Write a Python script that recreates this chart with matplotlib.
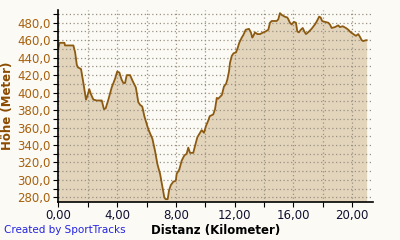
import matplotlib
matplotlib.use("Agg")
import matplotlib.pyplot as plt
from matplotlib.ticker import MultipleLocator, FuncFormatter

distanz = [0.00, 0.08, 0.41, 0.45, 1.02, 1.14, 1.25, 1.32, 1.54, 1.70, 1.82, 1.88,
           1.97, 2.10, 2.22, 2.38, 2.60, 2.95, 3.10, 3.22, 3.40, 3.63, 3.86, 4.00,
           4.15, 4.30, 4.42, 4.54, 4.65, 4.88, 5.06, 5.27, 5.44, 5.56, 5.71, 5.85,
           6.01, 6.12, 6.40, 6.58, 6.74, 6.92, 7.07, 7.21, 7.30, 7.44, 7.53, 7.65,
           7.82, 7.99, 8.05, 8.23, 8.39, 8.57, 8.73, 8.84, 8.96, 9.18, 9.30, 9.46,
           9.64, 9.75, 9.91, 10.05, 10.20, 10.30, 10.54, 10.66, 10.78, 10.88, 11.05,
           11.12, 11.27, 11.41, 11.50, 11.61, 11.68, 11.80, 11.92, 12.09, 12.20,
           12.31, 12.48, 12.59, 12.75, 12.97, 13.10, 13.20, 13.27, 13.38, 13.54,
           13.72, 13.95, 14.10, 14.29, 14.40, 14.52, 14.86, 14.97, 15.08, 15.20,
           15.40, 15.58, 15.65, 15.76, 15.88, 16.03, 16.17, 16.26, 16.37, 16.50,
           16.63, 16.74, 16.85, 17.00, 17.23, 17.46, 17.60, 17.75, 17.85, 17.95,
           18.14, 18.37, 18.48, 18.60, 18.82, 19.05, 19.16, 19.35, 19.57, 19.73,
           19.90, 20.07, 20.25, 20.41, 20.52, 20.64, 20.75, 20.93, 20.98]
hoehe = [451, 457, 457, 454, 454, 446, 432, 429, 427, 411, 398, 392,
         396, 404, 398, 392, 391, 391, 381, 382, 392, 406, 416, 424,
         423, 415, 411, 411, 420, 420, 413, 406, 389, 386, 384, 373,
         364, 358, 347, 333, 318, 307, 293, 280, 278, 278, 288, 294,
         298, 299, 307, 312, 322, 328, 330, 337, 331, 331, 339, 349,
         354, 357, 354, 362, 368, 373, 375, 381, 394, 393, 396,
         397, 407, 410, 415, 424, 434, 442, 445, 446, 451,
         457, 463, 466, 472, 473, 469, 463, 465, 469, 467,
         467, 469, 470, 472, 480, 482, 482, 484, 491, 489,
         487, 486, 484, 480, 478, 481, 480, 470, 469, 472,
         474, 470, 467, 469, 473, 478, 482, 487, 486, 482,
         481, 480, 478, 474, 475, 477, 475, 476, 474, 472,
         469, 467, 465, 467, 464, 460, 459, 460, 460]

bg = "#fbfaf5"
linie = "#8c5a10"
flaeche = "#e3d4bc"

fig = plt.figure(figsize=(4, 2.4), dpi=100, facecolor=bg)
ax = fig.add_axes([0.146, 0.16, 0.786, 0.798], facecolor=bg)

ymin, ymax = 275.2, 494.5
ax.fill_between(distanz, hoehe, ymin, color=flaeche, lw=0, zorder=1)
ax.plot(distanz, hoehe, color=linie, lw=1.3, zorder=3)

ax.set_xlim(0, 21.4)
ax.set_ylim(ymin, ymax)

ax.xaxis.set_major_locator(MultipleLocator(4))
ax.xaxis.set_minor_locator(MultipleLocator(2))
ax.yaxis.set_major_locator(MultipleLocator(20))
ax.yaxis.set_minor_locator(MultipleLocator(10))
ax.xaxis.set_major_formatter(FuncFormatter(lambda v, p: f"{v:.2f}".replace(".", ",")))
ax.yaxis.set_major_formatter(FuncFormatter(lambda v, p: f"{v:.1f}".replace(".", ",")))

ax.grid(which="both", color="#9a9282", ls=(0, (1, 2)), lw=0.9, zorder=2)
ax.set_axisbelow(False)

for s in ["top", "right"]:
    ax.spines[s].set_visible(False)
for s in ["left", "bottom"]:
    ax.spines[s].set_color("black")
    ax.spines[s].set_linewidth(1.2)
    ax.spines[s].set_zorder(4)

ax.tick_params(axis="y", which="both", length=3.5, width=0.8, color="black",
               labelsize=8.5, labelcolor="#a8600c", pad=2)
ax.tick_params(axis="x", which="major", length=3.5, width=0.8, color="black",
               labelsize=8.5, labelcolor="#101030", pad=2)
ax.tick_params(axis="x", which="minor", length=3.5, width=0.8, color="black")

ax.set_ylabel("Höhe (Meter)", fontsize=8.5, fontweight="bold", color="#8b4a00", labelpad=2)
ax.set_xlabel("Distanz (Kilometer)", fontsize=8.5, fontweight="bold", color="black", labelpad=1)

fig.text(0.01, 0.04, "Created by SportTracks", fontsize=7.5, color="#2424e0", va="center")

fig.savefig("out.png", dpi=100, facecolor=bg)
